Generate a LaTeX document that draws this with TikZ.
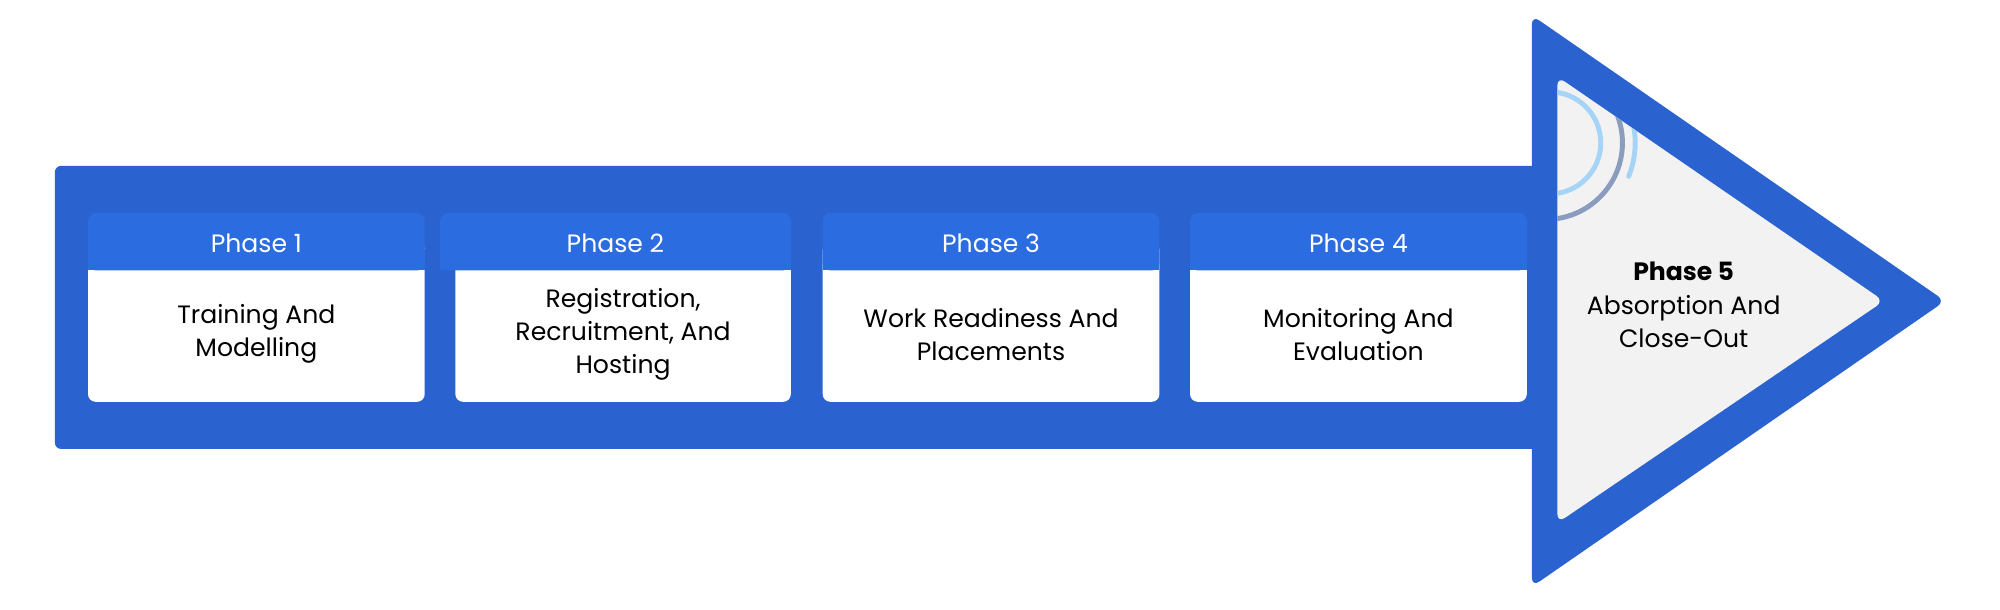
\documentclass[tikz,border=0pt]{standalone}
\usepackage{fontspec}
\setmainfont{Poppins}
\definecolor{arrowblue}{HTML}{2A62CF}
\definecolor{headblue}{HTML}{2B6DE0}
\definecolor{tipgray}{HTML}{F2F2F2}
\definecolor{ringblue}{HTML}{A6D4F7}
\definecolor{ringgray}{HTML}{8A9DBF}
\tikzset{
  HeadStyle/.style = {fill = headblue, rounded corners = 0.06cm},
  BodyStyle/.style = {fill = white, rounded corners = 0.06cm},
  HeadText/.style  = {text = white, font = \fontsize{5.6}{7}\selectfont},
  BodyText/.style  = {align = center, font = \fontsize{5.6}{7.4}\selectfont},
  RingStyle/.style = {line width = 1.1pt, line cap = round}
}
\begin{document}
\begin{tikzpicture}[x=0.01cm, y=-0.01cm]
  \useasboundingbox (0,0) rectangle (1568,478);
  % arrow
  \fill[arrowblue, rounded corners=0.05cm] (43,130) rectangle (1210,352);
  \fill[arrowblue, rounded corners=0.07cm] (1201,12) -- (1525,236) -- (1201,460) -- cycle;
  \fill[tipgray, rounded corners=0.07cm] (1221,60) -- (1477,236) -- (1221,410) -- cycle;
  \begin{scope}
    \clip[rounded corners=0.07cm] (1221,60) -- (1477,236) -- (1221,410) -- cycle;
    \draw[RingStyle, ringblue] (1215,112) circle (40);
    \draw[RingStyle, ringgray] (1212,112) circle (60);
    \draw[RingStyle, ringblue] (1212,112) ++(22:70) arc (22:-20:70);
  \end{scope}
  % phases
  \foreach \hl/\hr/\bl/\br/\n/\txt in {
      69/333/69/333/1/{Training And\\Modelling},
      345/620/357/620/2/{Registration,\\Recruitment, And\\Hosting},
      645/909/645/909/3/{Work Readiness And\\Placements},
      933/1197/933/1197/4/{Monitoring And\\Evaluation}} {
    \fill[BodyStyle] (\bl,190) rectangle (\br,315);
    \fill[HeadStyle] (\hl,167) rectangle (\hr,212);
    \fill[headblue] (\hl,195) rectangle (\hr,212);
    \node[HeadText] (head\n) at ({(\hl+\hr)/2},191) {Phase \n};
    \node[BodyText] (body\n) at ({(\bl+\br)/2},262) {\txt};
  }
  \node[BodyText] (body5) at (1320,239)
    {\textbf{Phase 5}\\Absorption And\\Close-Out};
\end{tikzpicture}
\end{document}
